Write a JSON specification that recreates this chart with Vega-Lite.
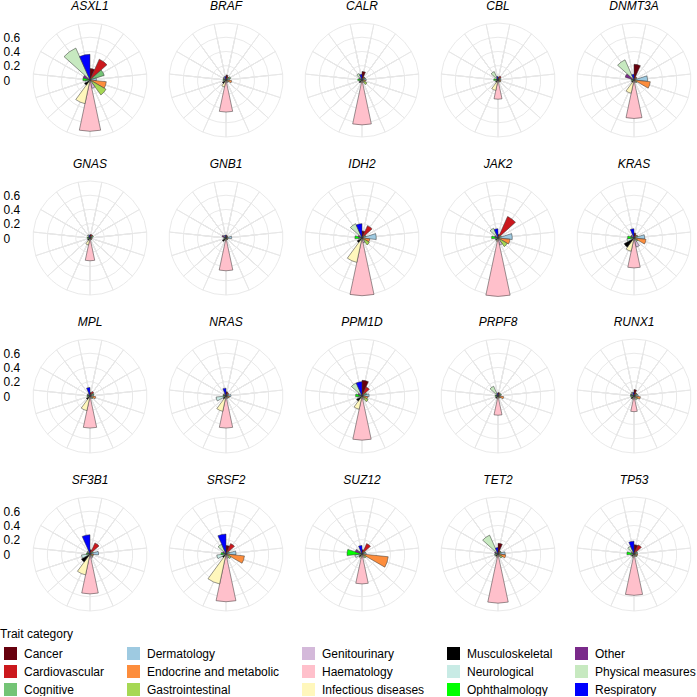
{
"$schema": "https://vega.github.io/schema/vega-lite/v6.json",
"padding": {"left": 0, "top": 0, "right": 0, "bottom": 0},
"datasets": {"d": [
{"g":"ASXL1","c":"Cancer","v":0.16},{"g":"ASXL1","c":"Cardiovascular","v":0.32},{"g":"ASXL1","c":"Cognitive","v":0.21},{"g":"ASXL1","c":"Dermatology","v":0.09},{"g":"ASXL1","c":"Endocrine and metabolic","v":0.23},{"g":"ASXL1","c":"Gastrointestinal","v":0.26},{"g":"ASXL1","c":"Genitourinary","v":0.12},{"g":"ASXL1","c":"Haematology","v":0.72},{"g":"ASXL1","c":"Infectious diseases","v":0.34},{"g":"ASXL1","c":"Musculoskeletal","v":0.09},{"g":"ASXL1","c":"Neurological","v":0.07},{"g":"ASXL1","c":"Ophthalmology","v":0.10},{"g":"ASXL1","c":"Other","v":0.10},{"g":"ASXL1","c":"Physical measures","v":0.49},{"g":"ASXL1","c":"Respiratory","v":0.36},
{"g":"BRAF","c":"Cancer","v":0.07},{"g":"BRAF","c":"Cardiovascular","v":0.05},{"g":"BRAF","c":"Cognitive","v":0.07},{"g":"BRAF","c":"Dermatology","v":0.05},{"g":"BRAF","c":"Endocrine and metabolic","v":0.08},{"g":"BRAF","c":"Gastrointestinal","v":0.04},{"g":"BRAF","c":"Genitourinary","v":0.04},{"g":"BRAF","c":"Haematology","v":0.45},{"g":"BRAF","c":"Infectious diseases","v":0.10},{"g":"BRAF","c":"Musculoskeletal","v":0.06},{"g":"BRAF","c":"Neurological","v":0.04},{"g":"BRAF","c":"Ophthalmology","v":0.04},{"g":"BRAF","c":"Other","v":0.04},{"g":"BRAF","c":"Physical measures","v":0.05},{"g":"BRAF","c":"Respiratory","v":0.05},
{"g":"CALR","c":"Cancer","v":0.12},{"g":"CALR","c":"Cardiovascular","v":0.05},{"g":"CALR","c":"Cognitive","v":0.05},{"g":"CALR","c":"Dermatology","v":0.06},{"g":"CALR","c":"Endocrine and metabolic","v":0.05},{"g":"CALR","c":"Gastrointestinal","v":0.08},{"g":"CALR","c":"Genitourinary","v":0.04},{"g":"CALR","c":"Haematology","v":0.63},{"g":"CALR","c":"Infectious diseases","v":0.04},{"g":"CALR","c":"Musculoskeletal","v":0.05},{"g":"CALR","c":"Neurological","v":0.04},{"g":"CALR","c":"Ophthalmology","v":0.06},{"g":"CALR","c":"Other","v":0.04},{"g":"CALR","c":"Physical measures","v":0.10},{"g":"CALR","c":"Respiratory","v":0.08},
{"g":"CBL","c":"Cancer","v":0.04},{"g":"CBL","c":"Cardiovascular","v":0.06},{"g":"CBL","c":"Cognitive","v":0.04},{"g":"CBL","c":"Dermatology","v":0.04},{"g":"CBL","c":"Endocrine and metabolic","v":0.04},{"g":"CBL","c":"Gastrointestinal","v":0.04},{"g":"CBL","c":"Genitourinary","v":0.03},{"g":"CBL","c":"Haematology","v":0.27},{"g":"CBL","c":"Infectious diseases","v":0.15},{"g":"CBL","c":"Musculoskeletal","v":0.04},{"g":"CBL","c":"Neurological","v":0.03},{"g":"CBL","c":"Ophthalmology","v":0.06},{"g":"CBL","c":"Other","v":0.03},{"g":"CBL","c":"Physical measures","v":0.13},{"g":"CBL","c":"Respiratory","v":0.05},
{"g":"DNMT3A","c":"Cancer","v":0.22},{"g":"DNMT3A","c":"Cardiovascular","v":0.05},{"g":"DNMT3A","c":"Cognitive","v":0.04},{"g":"DNMT3A","c":"Dermatology","v":0.19},{"g":"DNMT3A","c":"Endocrine and metabolic","v":0.23},{"g":"DNMT3A","c":"Gastrointestinal","v":0.05},{"g":"DNMT3A","c":"Genitourinary","v":0.04},{"g":"DNMT3A","c":"Haematology","v":0.54},{"g":"DNMT3A","c":"Infectious diseases","v":0.19},{"g":"DNMT3A","c":"Musculoskeletal","v":0.04},{"g":"DNMT3A","c":"Neurological","v":0.03},{"g":"DNMT3A","c":"Ophthalmology","v":0.04},{"g":"DNMT3A","c":"Other","v":0.13},{"g":"DNMT3A","c":"Physical measures","v":0.31},{"g":"DNMT3A","c":"Respiratory","v":0.08},
{"g":"GNAS","c":"Cancer","v":0.05},{"g":"GNAS","c":"Cardiovascular","v":0.05},{"g":"GNAS","c":"Cognitive","v":0.05},{"g":"GNAS","c":"Dermatology","v":0.03},{"g":"GNAS","c":"Endocrine and metabolic","v":0.03},{"g":"GNAS","c":"Gastrointestinal","v":0.03},{"g":"GNAS","c":"Genitourinary","v":0.03},{"g":"GNAS","c":"Haematology","v":0.32},{"g":"GNAS","c":"Infectious diseases","v":0.10},{"g":"GNAS","c":"Musculoskeletal","v":0.04},{"g":"GNAS","c":"Neurological","v":0.03},{"g":"GNAS","c":"Ophthalmology","v":0.04},{"g":"GNAS","c":"Other","v":0.03},{"g":"GNAS","c":"Physical measures","v":0.05},{"g":"GNAS","c":"Respiratory","v":0.04},
{"g":"GNB1","c":"Cancer","v":0.04},{"g":"GNB1","c":"Cardiovascular","v":0.03},{"g":"GNB1","c":"Cognitive","v":0.03},{"g":"GNB1","c":"Dermatology","v":0.08},{"g":"GNB1","c":"Endocrine and metabolic","v":0.03},{"g":"GNB1","c":"Gastrointestinal","v":0.03},{"g":"GNB1","c":"Genitourinary","v":0.03},{"g":"GNB1","c":"Haematology","v":0.46},{"g":"GNB1","c":"Infectious diseases","v":0.04},{"g":"GNB1","c":"Musculoskeletal","v":0.06},{"g":"GNB1","c":"Neurological","v":0.03},{"g":"GNB1","c":"Ophthalmology","v":0.03},{"g":"GNB1","c":"Other","v":0.06},{"g":"GNB1","c":"Physical measures","v":0.04},{"g":"GNB1","c":"Respiratory","v":0.04},
{"g":"IDH2","c":"Cancer","v":0.10},{"g":"IDH2","c":"Cardiovascular","v":0.19},{"g":"IDH2","c":"Cognitive","v":0.06},{"g":"IDH2","c":"Dermatology","v":0.20},{"g":"IDH2","c":"Endocrine and metabolic","v":0.11},{"g":"IDH2","c":"Gastrointestinal","v":0.12},{"g":"IDH2","c":"Genitourinary","v":0.07},{"g":"IDH2","c":"Haematology","v":0.81},{"g":"IDH2","c":"Infectious diseases","v":0.35},{"g":"IDH2","c":"Musculoskeletal","v":0.08},{"g":"IDH2","c":"Neurological","v":0.05},{"g":"IDH2","c":"Ophthalmology","v":0.10},{"g":"IDH2","c":"Other","v":0.06},{"g":"IDH2","c":"Physical measures","v":0.22},{"g":"IDH2","c":"Respiratory","v":0.20},
{"g":"JAK2","c":"Cancer","v":0.05},{"g":"JAK2","c":"Cardiovascular","v":0.33},{"g":"JAK2","c":"Cognitive","v":0.05},{"g":"JAK2","c":"Dermatology","v":0.20},{"g":"JAK2","c":"Endocrine and metabolic","v":0.17},{"g":"JAK2","c":"Gastrointestinal","v":0.15},{"g":"JAK2","c":"Genitourinary","v":0.10},{"g":"JAK2","c":"Haematology","v":0.82},{"g":"JAK2","c":"Infectious diseases","v":0.05},{"g":"JAK2","c":"Musculoskeletal","v":0.04},{"g":"JAK2","c":"Neurological","v":0.04},{"g":"JAK2","c":"Ophthalmology","v":0.09},{"g":"JAK2","c":"Other","v":0.05},{"g":"JAK2","c":"Physical measures","v":0.15},{"g":"JAK2","c":"Respiratory","v":0.13},
{"g":"KRAS","c":"Cancer","v":0.07},{"g":"KRAS","c":"Cardiovascular","v":0.05},{"g":"KRAS","c":"Cognitive","v":0.06},{"g":"KRAS","c":"Dermatology","v":0.15},{"g":"KRAS","c":"Endocrine and metabolic","v":0.17},{"g":"KRAS","c":"Gastrointestinal","v":0.06},{"g":"KRAS","c":"Genitourinary","v":0.13},{"g":"KRAS","c":"Haematology","v":0.42},{"g":"KRAS","c":"Infectious diseases","v":0.19},{"g":"KRAS","c":"Musculoskeletal","v":0.16},{"g":"KRAS","c":"Neurological","v":0.10},{"g":"KRAS","c":"Ophthalmology","v":0.09},{"g":"KRAS","c":"Other","v":0.05},{"g":"KRAS","c":"Physical measures","v":0.05},{"g":"KRAS","c":"Respiratory","v":0.13},
{"g":"MPL","c":"Cancer","v":0.05},{"g":"MPL","c":"Cardiovascular","v":0.07},{"g":"MPL","c":"Cognitive","v":0.06},{"g":"MPL","c":"Dermatology","v":0.05},{"g":"MPL","c":"Endocrine and metabolic","v":0.08},{"g":"MPL","c":"Gastrointestinal","v":0.05},{"g":"MPL","c":"Genitourinary","v":0.04},{"g":"MPL","c":"Haematology","v":0.45},{"g":"MPL","c":"Infectious diseases","v":0.21},{"g":"MPL","c":"Musculoskeletal","v":0.06},{"g":"MPL","c":"Neurological","v":0.04},{"g":"MPL","c":"Ophthalmology","v":0.04},{"g":"MPL","c":"Other","v":0.04},{"g":"MPL","c":"Physical measures","v":0.04},{"g":"MPL","c":"Respiratory","v":0.12},
{"g":"NRAS","c":"Cancer","v":0.06},{"g":"NRAS","c":"Cardiovascular","v":0.05},{"g":"NRAS","c":"Cognitive","v":0.04},{"g":"NRAS","c":"Dermatology","v":0.07},{"g":"NRAS","c":"Endocrine and metabolic","v":0.05},{"g":"NRAS","c":"Gastrointestinal","v":0.04},{"g":"NRAS","c":"Genitourinary","v":0.04},{"g":"NRAS","c":"Haematology","v":0.45},{"g":"NRAS","c":"Infectious diseases","v":0.22},{"g":"NRAS","c":"Musculoskeletal","v":0.05},{"g":"NRAS","c":"Neurological","v":0.14},{"g":"NRAS","c":"Ophthalmology","v":0.04},{"g":"NRAS","c":"Other","v":0.04},{"g":"NRAS","c":"Physical measures","v":0.04},{"g":"NRAS","c":"Respiratory","v":0.11},
{"g":"PPM1D","c":"Cancer","v":0.22},{"g":"PPM1D","c":"Cardiovascular","v":0.14},{"g":"PPM1D","c":"Cognitive","v":0.07},{"g":"PPM1D","c":"Dermatology","v":0.10},{"g":"PPM1D","c":"Endocrine and metabolic","v":0.08},{"g":"PPM1D","c":"Gastrointestinal","v":0.10},{"g":"PPM1D","c":"Genitourinary","v":0.05},{"g":"PPM1D","c":"Haematology","v":0.62},{"g":"PPM1D","c":"Infectious diseases","v":0.19},{"g":"PPM1D","c":"Musculoskeletal","v":0.09},{"g":"PPM1D","c":"Neurological","v":0.06},{"g":"PPM1D","c":"Ophthalmology","v":0.09},{"g":"PPM1D","c":"Other","v":0.06},{"g":"PPM1D","c":"Physical measures","v":0.20},{"g":"PPM1D","c":"Respiratory","v":0.20},
{"g":"PRPF8","c":"Cancer","v":0.05},{"g":"PRPF8","c":"Cardiovascular","v":0.04},{"g":"PRPF8","c":"Cognitive","v":0.05},{"g":"PRPF8","c":"Dermatology","v":0.04},{"g":"PRPF8","c":"Endocrine and metabolic","v":0.08},{"g":"PRPF8","c":"Gastrointestinal","v":0.04},{"g":"PRPF8","c":"Genitourinary","v":0.03},{"g":"PRPF8","c":"Haematology","v":0.27},{"g":"PRPF8","c":"Infectious diseases","v":0.04},{"g":"PRPF8","c":"Musculoskeletal","v":0.04},{"g":"PRPF8","c":"Neurological","v":0.03},{"g":"PRPF8","c":"Ophthalmology","v":0.04},{"g":"PRPF8","c":"Other","v":0.03},{"g":"PRPF8","c":"Physical measures","v":0.15},{"g":"PRPF8","c":"Respiratory","v":0.04},
{"g":"RUNX1","c":"Cancer","v":0.09},{"g":"RUNX1","c":"Cardiovascular","v":0.05},{"g":"RUNX1","c":"Cognitive","v":0.05},{"g":"RUNX1","c":"Dermatology","v":0.06},{"g":"RUNX1","c":"Endocrine and metabolic","v":0.09},{"g":"RUNX1","c":"Gastrointestinal","v":0.06},{"g":"RUNX1","c":"Genitourinary","v":0.05},{"g":"RUNX1","c":"Haematology","v":0.22},{"g":"RUNX1","c":"Infectious diseases","v":0.05},{"g":"RUNX1","c":"Musculoskeletal","v":0.05},{"g":"RUNX1","c":"Neurological","v":0.04},{"g":"RUNX1","c":"Ophthalmology","v":0.05},{"g":"RUNX1","c":"Other","v":0.05},{"g":"RUNX1","c":"Physical measures","v":0.06},{"g":"RUNX1","c":"Respiratory","v":0.05},
{"g":"SF3B1","c":"Cancer","v":0.06},{"g":"SF3B1","c":"Cardiovascular","v":0.17},{"g":"SF3B1","c":"Cognitive","v":0.05},{"g":"SF3B1","c":"Dermatology","v":0.12},{"g":"SF3B1","c":"Endocrine and metabolic","v":0.05},{"g":"SF3B1","c":"Gastrointestinal","v":0.05},{"g":"SF3B1","c":"Genitourinary","v":0.06},{"g":"SF3B1","c":"Haematology","v":0.56},{"g":"SF3B1","c":"Infectious diseases","v":0.30},{"g":"SF3B1","c":"Musculoskeletal","v":0.14},{"g":"SF3B1","c":"Neurological","v":0.12},{"g":"SF3B1","c":"Ophthalmology","v":0.05},{"g":"SF3B1","c":"Other","v":0.04},{"g":"SF3B1","c":"Physical measures","v":0.05},{"g":"SF3B1","c":"Respiratory","v":0.27},
{"g":"SRSF2","c":"Cancer","v":0.12},{"g":"SRSF2","c":"Cardiovascular","v":0.16},{"g":"SRSF2","c":"Cognitive","v":0.05},{"g":"SRSF2","c":"Dermatology","v":0.14},{"g":"SRSF2","c":"Endocrine and metabolic","v":0.26},{"g":"SRSF2","c":"Gastrointestinal","v":0.08},{"g":"SRSF2","c":"Genitourinary","v":0.06},{"g":"SRSF2","c":"Haematology","v":0.67},{"g":"SRSF2","c":"Infectious diseases","v":0.43},{"g":"SRSF2","c":"Musculoskeletal","v":0.06},{"g":"SRSF2","c":"Neurological","v":0.13},{"g":"SRSF2","c":"Ophthalmology","v":0.07},{"g":"SRSF2","c":"Other","v":0.05},{"g":"SRSF2","c":"Physical measures","v":0.15},{"g":"SRSF2","c":"Respiratory","v":0.28},
{"g":"SUZ12","c":"Cancer","v":0.06},{"g":"SUZ12","c":"Cardiovascular","v":0.16},{"g":"SUZ12","c":"Cognitive","v":0.05},{"g":"SUZ12","c":"Dermatology","v":0.06},{"g":"SUZ12","c":"Endocrine and metabolic","v":0.37},{"g":"SUZ12","c":"Gastrointestinal","v":0.07},{"g":"SUZ12","c":"Genitourinary","v":0.05},{"g":"SUZ12","c":"Haematology","v":0.42},{"g":"SUZ12","c":"Infectious diseases","v":0.06},{"g":"SUZ12","c":"Musculoskeletal","v":0.05},{"g":"SUZ12","c":"Neurological","v":0.10},{"g":"SUZ12","c":"Ophthalmology","v":0.21},{"g":"SUZ12","c":"Other","v":0.10},{"g":"SUZ12","c":"Physical measures","v":0.05},{"g":"SUZ12","c":"Respiratory","v":0.12},
{"g":"TET2","c":"Cancer","v":0.15},{"g":"TET2","c":"Cardiovascular","v":0.05},{"g":"TET2","c":"Cognitive","v":0.05},{"g":"TET2","c":"Dermatology","v":0.10},{"g":"TET2","c":"Endocrine and metabolic","v":0.11},{"g":"TET2","c":"Gastrointestinal","v":0.07},{"g":"TET2","c":"Genitourinary","v":0.04},{"g":"TET2","c":"Haematology","v":0.69},{"g":"TET2","c":"Infectious diseases","v":0.05},{"g":"TET2","c":"Musculoskeletal","v":0.04},{"g":"TET2","c":"Neurological","v":0.05},{"g":"TET2","c":"Ophthalmology","v":0.04},{"g":"TET2","c":"Other","v":0.05},{"g":"TET2","c":"Physical measures","v":0.29},{"g":"TET2","c":"Respiratory","v":0.09},
{"g":"TP53","c":"Cancer","v":0.13},{"g":"TP53","c":"Cardiovascular","v":0.14},{"g":"TP53","c":"Cognitive","v":0.05},{"g":"TP53","c":"Dermatology","v":0.05},{"g":"TP53","c":"Endocrine and metabolic","v":0.05},{"g":"TP53","c":"Gastrointestinal","v":0.05},{"g":"TP53","c":"Genitourinary","v":0.04},{"g":"TP53","c":"Haematology","v":0.58},{"g":"TP53","c":"Infectious diseases","v":0.05},{"g":"TP53","c":"Musculoskeletal","v":0.04},{"g":"TP53","c":"Neurological","v":0.05},{"g":"TP53","c":"Ophthalmology","v":0.10},{"g":"TP53","c":"Other","v":0.04},{"g":"TP53","c":"Physical measures","v":0.12},{"g":"TP53","c":"Respiratory","v":0.18}
]},
"data": {"name": "d"},
"facet": {"field": "g", "type": "nominal", "header": {"title": null, "labelFontStyle": "italic", "labelFontSize": 12, "labelPadding": 4, "labelColor": "#000"}},
"columns": 5,
"spacing": {"row": 15, "column": 10},
"spec": {
  "width": 126,
  "height": 126,
  "layer": [
    {"mark": {"type": "arc", "fill": "transparent", "stroke": "#e6e6e6", "strokeWidth": 0.9, "thetaOffset": 0.20944, "theta2Offset": 0.20944},
     "encoding": {"theta": {"aggregate": "count", "type": "quantitative", "stack": true, "scale": {"domain": [0, 15]}},
                  "radius": {"datum": 0.8, "type": "quantitative", "scale": {"type": "linear", "domain": [0, 0.8], "range": [0, 57], "zero": true, "nice": false}},
                  "detail": {"field": "c", "type": "nominal"}}},
    {"mark": {"type": "arc", "fill": "transparent", "stroke": "#e6e6e6", "strokeWidth": 0.9, "thetaOffset": 0.20944, "theta2Offset": 0.20944},
     "encoding": {"theta": {"aggregate": "count", "type": "quantitative", "stack": true},
                  "radius": {"datum": 0.6, "type": "quantitative"},
                  "detail": {"field": "c", "type": "nominal"}}},
    {"mark": {"type": "arc", "fill": "transparent", "stroke": "#e6e6e6", "strokeWidth": 0.9, "thetaOffset": 0.20944, "theta2Offset": 0.20944},
     "encoding": {"theta": {"aggregate": "count", "type": "quantitative", "stack": true},
                  "radius": {"datum": 0.4, "type": "quantitative"},
                  "detail": {"field": "c", "type": "nominal"}}},
    {"mark": {"type": "arc", "fill": "transparent", "stroke": "#e6e6e6", "strokeWidth": 0.9, "thetaOffset": 0.20944, "theta2Offset": 0.20944},
     "encoding": {"theta": {"aggregate": "count", "type": "quantitative", "stack": true},
                  "radius": {"datum": 0.2, "type": "quantitative"},
                  "detail": {"field": "c", "type": "nominal"}}},
    {"transform": [
       {"aggregate": [{"op": "count", "as": "n"}], "groupby": ["g", "c", "v"]},
       {"stack": "n", "groupby": ["g"], "sort": [{"field": "c", "order": "ascending"}], "as": ["t0", "t1"]}
     ],
     "mark": {"type": "arc", "stroke": "#333333", "strokeWidth": 0.5},
     "encoding": {"theta": {"field": "t0", "type": "quantitative"},
                  "theta2": {"field": "t1"},
                  "radius": {"field": "v", "type": "quantitative"},
                  "color": {"field": "c", "type": "nominal", "title": "Trait category",
                    "scale": {"domain": ["Cancer","Cardiovascular","Cognitive","Dermatology","Endocrine and metabolic","Gastrointestinal","Genitourinary","Haematology","Infectious diseases","Musculoskeletal","Neurological","Ophthalmology","Other","Physical measures","Respiratory"],
                              "range": ["#67000d","#cb181d","#74c476","#9ecae1","#fd8d3c","#a6d854","#d4b9da","#ffc0cb","#fff7bc","#000000","#c8ebe5","#00ff00","#7a2a8a","#c7e9c0","#0000ff"]},
                    "legend": {"orient": "none", "legendX": -27, "legendY": 612, "columns": 5, "symbolType": "square", "symbolSize": 169, "symbolStrokeWidth": 0, "symbolOffset": 4, "labelFontSize": 12, "titleFontSize": 12, "titleFontWeight": "normal", "columnPadding": 18, "rowPadding": 5, "labelOffset": 7, "titlePadding": 6, "labelColor": "#000", "titleColor": "#000"}}}},
    {"mark": {"type": "point", "opacity": 0},
     "encoding": {"y": {"datum": 0, "type": "quantitative", "scale": {"domain": [-0.8842, 0.8842], "nice": false, "zero": false},
                  "axis": {"values": [0, 0.2, 0.4, 0.6], "ticks": false, "tickSize": 0, "domain": false, "grid": false, "title": null, "labelFontSize": 12, "labelPadding": 24, "labelAlign": "left", "labelColor": "#000", "format": "~g"}}}}
  ]
},
"config": {"font": "Liberation Sans", "view": {"stroke": null}}
}
